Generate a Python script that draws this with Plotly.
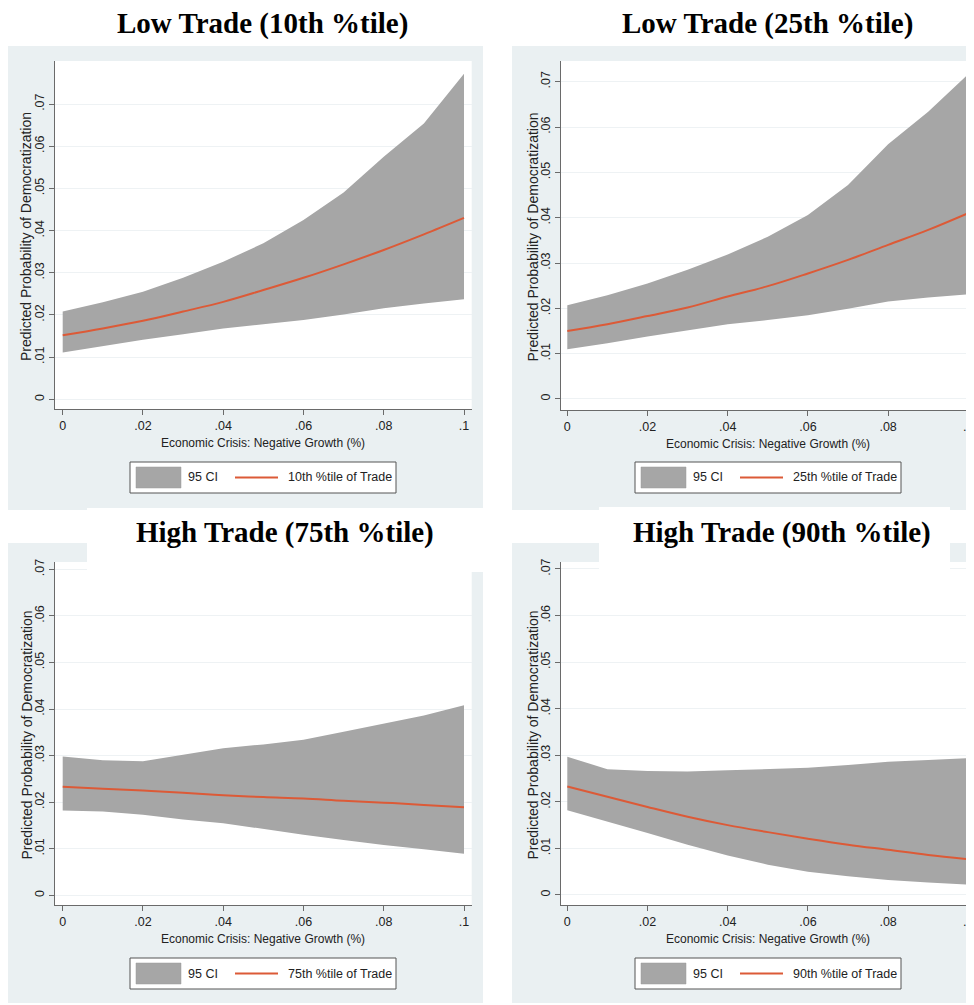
import plotly.graph_objects as go

# The page body has an 8px default margin; the figure is sized/offset so that
# page pixels line up with the 974x1005 reference.
OX, OY = 8, 8
W, H = 974 - OX, 1005 - OY

# ---------------- data ----------------
x_growth = [0.00, 0.01, 0.02, 0.03, 0.04, 0.05, 0.06, 0.07, 0.08, 0.09, 0.10]

p10_mid = [0.0152, 0.0168, 0.0186, 0.0208, 0.0231, 0.0259, 0.0288, 0.0320, 0.0354, 0.0391, 0.0430]
p10_lo = [0.0111, 0.0126, 0.0141, 0.0154, 0.0168, 0.0178, 0.0188, 0.0201, 0.0216, 0.0227, 0.0237]
p10_hi = [0.0208, 0.0230, 0.0255, 0.0288, 0.0326, 0.0370, 0.0425, 0.0490, 0.0575, 0.0654, 0.0772]

p25_mid = [0.0150, 0.0165, 0.0183, 0.0202, 0.0226, 0.0249, 0.0277, 0.0307, 0.0340, 0.0373, 0.0410]
p25_lo = [0.0110, 0.0123, 0.0138, 0.0152, 0.0165, 0.0174, 0.0185, 0.0199, 0.0215, 0.0224, 0.0231]
p25_hi = [0.0207, 0.0229, 0.0255, 0.0285, 0.0319, 0.0358, 0.0406, 0.0472, 0.0562, 0.0634, 0.0717]

p75_mid = [0.0233, 0.0229, 0.0225, 0.0220, 0.0215, 0.0211, 0.0208, 0.0203, 0.0199, 0.0194, 0.0189]
p75_lo = [0.0182, 0.0180, 0.0173, 0.0163, 0.0155, 0.0142, 0.0130, 0.0119, 0.0108, 0.0099, 0.0089]
p75_hi = [0.0298, 0.0290, 0.0288, 0.0302, 0.0316, 0.0324, 0.0334, 0.0351, 0.0369, 0.0386, 0.0408]

p90_mid = [0.0233, 0.0211, 0.0189, 0.0168, 0.0150, 0.0135, 0.0121, 0.0108, 0.0097, 0.0086, 0.0077]
p90_lo = [0.0182, 0.0158, 0.0133, 0.0108, 0.0085, 0.0065, 0.0050, 0.0040, 0.0032, 0.0027, 0.0022]
p90_hi = [0.0297, 0.0270, 0.0266, 0.0265, 0.0268, 0.0271, 0.0273, 0.0279, 0.0286, 0.0290, 0.0294]

panel_titles = ["Low Trade (10th %tile)", "Low Trade (25th %tile)",
                "High Trade (75th %tile)", "High Trade (90th %tile)"]
line_names = ["10th %tile of Trade", "25th %tile of Trade",
              "75th %tile of Trade", "90th %tile of Trade"]
ci_name = "95 CI"

x_tickvals = [0, 0.02, 0.04, 0.06, 0.08, 0.10]
x_ticktext = ["0", ".02", ".04", ".06", ".08", ".1"]
y_tickvals = [0, 0.01, 0.02, 0.03, 0.04, 0.05, 0.06, 0.07]
y_ticktext = ["0", ".01", ".02", ".03", ".04", ".05", ".06", ".07"]

x_title = "Economic Crisis: Negative Growth (%)"
y_title = "Predicted Probability of Democratization"

series = [(p10_lo, p10_mid, p10_hi), (p25_lo, p25_mid, p25_hi),
          (p75_lo, p75_mid, p75_hi), (p90_lo, p90_mid, p90_hi)]

# ---------------- layout geometry (reference pixels) ----------------
geom = [
    dict(plot=(55, 471.7, 61, 409), xr=(-0.00192, 0.10192), yr=(-0.0023, 0.0802),
         panel=(8, 483, 46, 510), title=(262.5, 23), tbox=None, leg=(130, 396, 462, 493)),
    dict(plot=(561, 974, 61, 410), xr=(-0.00157, 0.10142), yr=(-0.00243, 0.07457),
         panel=(512, 974, 46, 510), title=(767, 23), tbox=None, leg=(635, 901, 462, 493)),
    dict(plot=(55, 471.7, 562, 905), xr=(-0.00192, 0.10192), yr=(-0.00208, 0.07157),
         panel=(8, 483, 543, 1003), title=(285, 532), tbox=(87, 483, 508, 572), leg=(130, 396, 958, 989)),
    dict(plot=(561, 974, 562, 905), xr=(-0.00157, 0.10142), yr=(-0.00215, 0.0715),
         panel=(512, 974, 543, 1003), title=(782, 532), tbox=(599, 950, 507, 572), leg=(635, 901, 958, 989)),
]

BG = "#eaf0f2"
BAND = "#a6a6a6"
LINE = "#dc5a37"
AX = "#6a6a6a"
GRID = "#eef2f4"
TXT = "#222222"
SANS = "Liberation Sans, Arial, sans-serif"
SERIF = "Liberation Serif, Times New Roman, serif"


def px(x):
    return (x - OX) / W


def py(y):
    return 1 - (y - OY) / H


fig = go.Figure()
shapes = []
annotations = []
layout = {}

for i, (g, (lo, mid, hi)) in enumerate(zip(geom, series)):
    n = "" if i == 0 else str(i + 1)
    xa, ya = "x" + n, "y" + n
    fig.add_trace(go.Scatter(x=x_growth, y=lo, mode="lines", line=dict(width=0),
                             xaxis=xa, yaxis=ya, showlegend=False, hoverinfo="skip"))
    fig.add_trace(go.Scatter(x=x_growth, y=hi, mode="lines", line=dict(width=0),
                             fill="tonexty", fillcolor=BAND, name=ci_name,
                             xaxis=xa, yaxis=ya, showlegend=False))
    fig.add_trace(go.Scatter(x=x_growth, y=mid, mode="lines",
                             line=dict(color=LINE, width=2, shape="spline"),
                             name=line_names[i], xaxis=xa, yaxis=ya, showlegend=False))

    x0, x1, y0, y1 = g["plot"]
    layout["xaxis" + n] = dict(
        domain=[px(x0), min(1.0, px(x1))], range=list(g["xr"]), anchor=ya,
        tickvals=x_tickvals, ticktext=x_ticktext, ticks="outside", ticklen=5,
        tickcolor=AX, showline=True, linecolor=AX, linewidth=1, showgrid=False,
        zeroline=False, tickfont=dict(family=SANS, size=12.5, color=TXT),
        ticklabeloverflow="allow", automargin=False, fixedrange=True)
    layout["yaxis" + n] = dict(
        domain=[max(0.0, py(y1)), py(y0)], range=list(g["yr"]), anchor=xa,
        tickvals=y_tickvals, ticktext=y_ticktext, ticks="outside", ticklen=5,
        tickcolor=AX, showline=True, linecolor=AX, linewidth=1, showgrid=True,
        gridcolor=GRID, gridwidth=1, zeroline=False, tickangle=-90,
        tickfont=dict(family=SANS, size=12.5, color=TXT),
        automargin=False, fixedrange=True)

    # axis titles
    annotations.append(dict(text=x_title, x=px((x0 + x1) / 2), y=py(y1 + 34),
                            xref="paper", yref="paper", showarrow=False,
                            xanchor="center", yanchor="middle",
                            font=dict(family=SANS, size=12, color=TXT)))
    annotations.append(dict(text=y_title, x=px(x0 - 29), y=py((y0 + y1) / 2 + 2),
                            xref="paper", yref="paper", showarrow=False, textangle=-90,
                            xanchor="center", yanchor="middle",
                            font=dict(family=SANS, size=14, color=TXT)))

    # panel background and white plot region
    a0, a1, b0, b1 = g["panel"]
    shapes.append(dict(type="rect", xref="paper", yref="paper", x0=px(a0), x1=px(a1),
                       y0=py(b1), y1=py(b0), fillcolor=BG, line=dict(width=0), layer="below"))
    shapes.append(dict(type="rect", xref=xa + " domain", yref=ya + " domain", x0=0, x1=1,
                       y0=0, y1=1, fillcolor="white", line=dict(width=0), layer="below"))

    # title box (bottom panels)
    if g["tbox"]:
        t0, t1, u0, u1 = g["tbox"]
        shapes.append(dict(type="rect", xref="paper", yref="paper", x0=px(t0), x1=px(t1),
                           y0=py(u1), y1=py(u0), fillcolor="white", line=dict(width=0),
                           layer="above"))
    tx, ty = g["title"]
    annotations.append(dict(text="<b>" + panel_titles[i] + "</b>", x=px(tx), y=py(ty),
                            xref="paper", yref="paper", showarrow=False,
                            xanchor="center", yanchor="middle",
                            font=dict(family=SERIF, size=29, color="black")))

    # legend box
    l0, l1, m0, m1 = g["leg"]
    cy = (m0 + m1) / 2
    shapes.append(dict(type="rect", xref="paper", yref="paper", x0=px(l0), x1=px(l1),
                       y0=py(m1), y1=py(m0), fillcolor="white",
                       line=dict(color="#555555", width=1), layer="above"))
    shapes.append(dict(type="rect", xref="paper", yref="paper", x0=px(l0 + 6), x1=px(l0 + 51),
                       y0=py(m1 - 5), y1=py(m0 + 5), fillcolor=BAND,
                       line=dict(color="#999999", width=0.5), layer="above"))
    annotations.append(dict(text=ci_name, x=px(l0 + 56), y=py(cy), xref="paper", yref="paper",
                            showarrow=False, xanchor="left", yanchor="middle",
                            font=dict(family=SANS, size=12.5, color=TXT)))
    shapes.append(dict(type="line", xref="paper", yref="paper", x0=px(l0 + 105), x1=px(l0 + 148),
                       y0=py(cy), y1=py(cy), line=dict(color=LINE, width=2), layer="above"))
    annotations.append(dict(text=line_names[i], x=px(l0 + 156), y=py(cy), xref="paper",
                            yref="paper", showarrow=False, xanchor="left", yanchor="middle",
                            font=dict(family=SANS, size=12.5, color=TXT)))

fig.update_layout(
    width=W, height=H, autosize=False,
    margin=dict(l=0, r=0, t=0, b=0, pad=0),
    paper_bgcolor="white", plot_bgcolor="white",
    showlegend=False, shapes=shapes, annotations=annotations,
    **layout)

fig.write_html("out.html")
